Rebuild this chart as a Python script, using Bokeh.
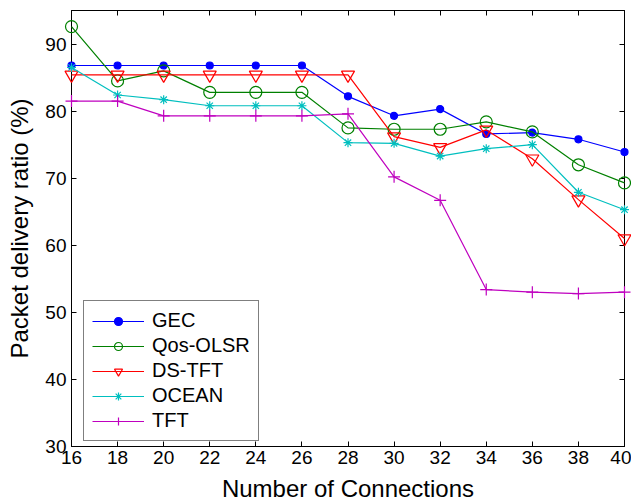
from bokeh.plotting import figure
from bokeh.models import LinearAxis, FixedTicker, Legend, CustomJSTickFormatter
from bokeh.embed import file_html
from bokeh.resources import INLINE

connections = [16, 18, 20, 22, 24, 26, 28, 30, 32, 34, 36, 38, 40]
gec = [86.8, 86.8, 86.8, 86.8, 86.8, 86.8, 82.2, 79.3, 80.3, 76.6, 76.8, 75.8, 73.9]
qos_olsr = [92.6, 84.5, 86.0, 82.8, 82.8, 82.8, 77.5, 77.3, 77.3, 78.4, 76.9, 72.0, 69.3]
ds_tft = [85.4, 85.4, 85.4, 85.4, 85.4, 85.4, 85.4, 76.2, 74.6, 77.2, 72.9, 66.8, 61.0]
ocean = [86.5, 82.4, 81.7, 80.8, 80.8, 80.8, 75.3, 75.2, 73.3, 74.4, 75.0, 67.9, 65.3]
tft = [81.5, 81.5, 79.3, 79.3, 79.3, 79.3, 79.6, 70.2, 66.7, 53.4, 53.0, 52.8, 53.0]

x_ticks = [16, 18, 20, 22, 24, 26, 28, 30, 32, 34, 36, 38, 40]
y_ticks = [30, 40, 50, 60, 70, 80, 90]

FONT = "Liberation Sans"

p = figure(width=631, height=504, x_range=(16, 40), y_range=(30, 95),
           output_backend="svg", toolbar_location=None,
           min_border_left=71, min_border_right=7, min_border_top=10, min_border_bottom=58)
p.xgrid.visible = False
p.ygrid.visible = False
p.outline_line_color = "black"
p.outline_line_width = 1
p.background_fill_color = "white"
p.border_fill_color = "white"

for ax in (p.xaxis[0], p.yaxis[0]):
    ax.major_tick_in = 5
    ax.major_tick_out = 0
    ax.minor_tick_in = 0
    ax.minor_tick_out = 0
    ax.axis_line_color = "black"
    ax.major_tick_line_color = "black"
    ax.major_label_text_font = FONT
    ax.major_label_text_font_size = "19px"
    ax.major_label_text_color = "black"
    ax.axis_label_text_font = FONT
    ax.axis_label_text_font_size = "24px"
    ax.axis_label_text_font_style = "normal"
    ax.axis_label_text_color = "black"

p.xaxis[0].ticker = FixedTicker(ticks=x_ticks)
p.yaxis[0].ticker = FixedTicker(ticks=y_ticks)
p.xaxis[0].axis_label = "Number of Connections"
p.yaxis[0].axis_label = "Packet delivery ratio (%)"
p.xaxis[0].major_label_standoff = 4
p.yaxis[0].major_label_standoff = 5
p.xaxis[0].axis_label_standoff = 8
p.yaxis[0].axis_label_standoff = 9

blank = CustomJSTickFormatter(code="return '';")
top = LinearAxis(ticker=FixedTicker(ticks=x_ticks), major_tick_in=5, major_tick_out=0,
                 minor_tick_in=0, minor_tick_out=0, formatter=blank,
                 major_label_standoff=0, axis_line_color="black")
right = LinearAxis(ticker=FixedTicker(ticks=y_ticks), major_tick_in=5, major_tick_out=0,
                   minor_tick_in=0, minor_tick_out=0, formatter=blank,
                   major_label_standoff=0, axis_line_color="black")
p.add_layout(top, "above")
p.add_layout(right, "right")

series = [
    ("GEC", gec, "#0000FF", "circle", 7, "#0000FF"),
    ("Qos-OLSR", qos_olsr, "#008000", "circle", 12, None),
    ("DS-TFT", ds_tft, "#FF0000", "inverted_triangle", 13, None),
    ("OCEAN", ocean, "#00BFBF", "asterisk", 9, None),
    ("TFT", tft, "#BF00BF", "cross", 12, None),
]

items = []
for name, ys, color, marker, size, fill in series:
    r1 = p.line(connections, ys, line_color=color, line_width=1.2)
    r2 = p.scatter(connections, ys, marker=marker, size=size, line_color=color,
                   fill_color=fill, line_width=1.2)
    r1.level = "overlay"
    r2.level = "overlay"
    items.append((name, [r1, r2]))

legend = Legend(items=items, location=(12, 5))
legend.label_text_font = FONT
legend.label_text_font_size = "20px"
legend.label_text_color = "black"
legend.border_line_color = "black"
legend.border_line_width = 1
legend.background_fill_color = "white"
legend.background_fill_alpha = 1
legend.glyph_width = 52
legend.glyph_height = 20
legend.label_height = 20
legend.label_standoff = 8
legend.spacing = 2
legend.padding = 8
legend.margin = 0
p.add_layout(legend, "center")

open("out.html", "w").write(file_html(p, INLINE))
